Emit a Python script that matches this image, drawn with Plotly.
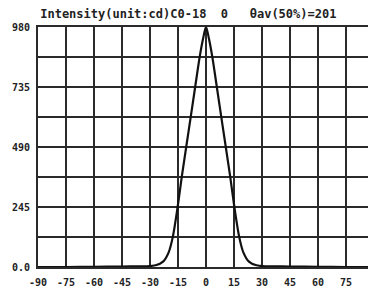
import plotly.graph_objects as go

angles = [-90, -75, -60, -45, -35, -32, -27, -23, -20, -17.8, -15.2, -13, -10.6, -8.2, -5.8, -3.4, -1.5, 0,
          1.5, 3.4, 5.8, 8.2, 10.6, 13, 15.2, 17.8, 20, 23, 27, 32, 35, 45, 60, 75, 90]
intensity = [0, 0, 1, 2, 3, 3, 7, 22, 60, 122, 245, 367, 490, 612, 735, 857, 935, 980,
             935, 857, 735, 612, 490, 367, 245, 122, 60, 22, 7, 3, 3, 2, 1, 0, 0]

x_ticks = [-90, -75, -60, -45, -30, -15, 0, 15, 30, 45, 60, 75, 90]
x_labels = ["-90", "-75", "-60", "-45", "-30", "-15", "0", "15", "30", "45", "60", "75", "90"]
y_ticks = [0, 122.5, 245, 367.5, 490, 612.5, 735, 857.5, 980]
y_labels = ["0.0", "", "245", "", "490", "", "735", "", "980"]
title_text = "Intensity(unit:cd)C0-18  0   θav(50%)=201"

fig = go.Figure()
fig.add_trace(go.Scatter(x=angles, y=intensity, mode="lines",
                         line=dict(color="#111111", width=2.2, shape="spline", smoothing=0.8),
                         hoverinfo="skip", showlegend=False))

font = dict(family="DejaVu Sans Mono", size=10, color="#222222", weight="bold")
fig.update_layout(
    width=368, height=283,
    margin=dict(l=30, r=2, t=19, b=24),
    paper_bgcolor="white", plot_bgcolor="white",
    title=dict(text=title_text, x=0.49, xanchor="center", y=0.978, yanchor="middle",
               font=dict(family="DejaVu Sans Mono", size=12, color="#222222", weight="bold")),
    xaxis=dict(range=[-90, 90], tickvals=x_ticks, ticktext=x_labels, showgrid=True,
               gridcolor="#2a2a2a", gridwidth=2, zeroline=False, showline=True, linecolor="#2a2a2a",
               linewidth=2, mirror=True, tickfont=font, ticks="", ticklen=0,
               automargin=False, ticklabeloverflow="allow", ticklabelstandoff=5),
    yaxis=dict(range=[0, 980], tickvals=y_ticks, ticktext=y_labels, showgrid=True,
               gridcolor="#2a2a2a", gridwidth=2, zeroline=False, showline=True, linecolor="#2a2a2a",
               linewidth=2, mirror=True, tickfont=font, ticks="", ticklen=0,
               automargin=False, ticklabelstandoff=4),
)
fig.write_html("out.html")
